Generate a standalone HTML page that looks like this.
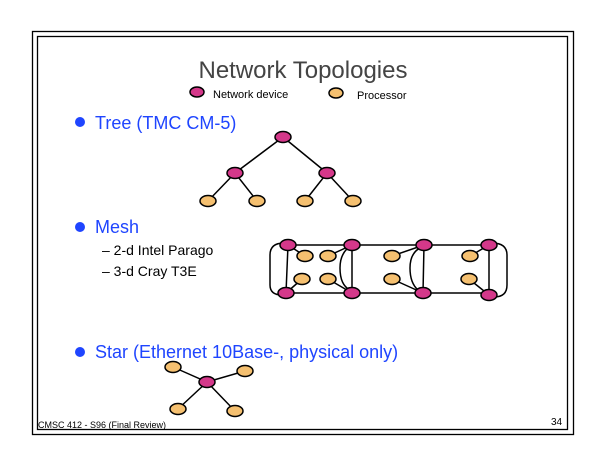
<!DOCTYPE html>
<html><head><style>
body{margin:0;background:#fff;width:605px;height:467px;overflow:hidden}
svg{display:block}
text{font-family:"Liberation Sans",sans-serif}
</style></head><body>
<svg width="605" height="467" viewBox="0 0 605 467">
<rect x="32.5" y="31.5" width="541" height="403" fill="none" stroke="#000" stroke-width="1.3"/>
<rect x="37.5" y="36.5" width="530" height="393" fill="none" stroke="#000" stroke-width="1.3"/>
<text x="303" y="78" font-size="24" fill="#444" text-anchor="middle">Network Topologies</text>
<g stroke="#000" stroke-width="1.5">
<ellipse cx="197" cy="92" rx="7" ry="5" fill="#d4388a"/>
<ellipse cx="336" cy="93" rx="7" ry="5" fill="#f5c070"/>
</g>
<text x="213" y="98" font-size="11">Network device</text>
<text x="357" y="99" font-size="11">Processor</text>
<g fill="#1f45ff" font-size="18">
<circle cx="80" cy="122" r="5"/>
<text x="95" y="129">Tree (TMC CM-5)</text>
<circle cx="80" cy="227" r="5"/>
<text x="95" y="233">Mesh</text>
<circle cx="80" cy="352" r="5"/>
<text x="95" y="358">Star (Ethernet 10Base-, physical only)</text>
</g>
<text x="102" y="255" font-size="14">–  2-d Intel Parago</text>
<text x="102" y="276" font-size="14">–  3-d Cray T3E</text>
<g stroke="#000" stroke-width="1.5" fill="none">
<!-- tree -->
<path d="M283 137L235 173M283 137L327 173M235 173L208 201M235 173L257 201M327 173L305 201M327 173L353 201"/>
<!-- mesh -->
<path d="M288 245H489M286 293H489M288 245L286 293M352 245V293M424 245L423 293M489 245V295"/>
<path d="M288 245L305 256M352 245L328 256M424 245L392 256M489 245L470 256M286 293L302 279M352 293L328 279M423 293L392 279M489 295L469 279"/>
<path d="M284 243Q270 243 270 255V285Q270 295 282 295"/>
<path d="M492 243Q507 243 507 255V285Q507 297 494 297"/>
<path d="M352 245Q340 252 340 268Q340 285 350 290"/>
<path d="M422 247Q410 252 410 268Q410 283 418 290"/>
<!-- star -->
<path d="M207 382L173 367M207 382L245 371M207 382L178 409M207 382L235 411"/>
</g>
<g stroke="#000" stroke-width="1.5">
<g fill="#d4388a">
<ellipse cx="283" cy="137" rx="8" ry="5.5"/>
<ellipse cx="235" cy="173" rx="8" ry="5.5"/>
<ellipse cx="327" cy="173" rx="8" ry="5.5"/>
<ellipse cx="288" cy="245" rx="8" ry="5.5"/>
<ellipse cx="352" cy="245" rx="8" ry="5.5"/>
<ellipse cx="424" cy="245" rx="8" ry="5.5"/>
<ellipse cx="489" cy="245" rx="8" ry="5.5"/>
<ellipse cx="286" cy="293" rx="8" ry="5.5"/>
<ellipse cx="352" cy="293" rx="8" ry="5.5"/>
<ellipse cx="423" cy="293" rx="8" ry="5.5"/>
<ellipse cx="489" cy="295" rx="8" ry="5.5"/>
<ellipse cx="207" cy="382" rx="8" ry="5.5"/>
</g>
<g fill="#f5c070">
<ellipse cx="208" cy="201" rx="8" ry="5.5"/>
<ellipse cx="257" cy="201" rx="8" ry="5.5"/>
<ellipse cx="305" cy="201" rx="8" ry="5.5"/>
<ellipse cx="353" cy="201" rx="8" ry="5.5"/>
<ellipse cx="305" cy="256" rx="8" ry="5.5"/>
<ellipse cx="328" cy="256" rx="8" ry="5.5"/>
<ellipse cx="392" cy="256" rx="8" ry="5.5"/>
<ellipse cx="470" cy="256" rx="8" ry="5.5"/>
<ellipse cx="302" cy="279" rx="8" ry="5.5"/>
<ellipse cx="328" cy="279" rx="8" ry="5.5"/>
<ellipse cx="392" cy="279" rx="8" ry="5.5"/>
<ellipse cx="469" cy="279" rx="8" ry="5.5"/>
<ellipse cx="173" cy="367" rx="8" ry="5.5"/>
<ellipse cx="245" cy="371" rx="8" ry="5.5"/>
<ellipse cx="178" cy="409" rx="8" ry="5.5"/>
<ellipse cx="235" cy="411" rx="8" ry="5.5"/>
</g>
</g>
<text x="38" y="428" font-size="9">CMSC 412 - S96  (Final Review)</text>
<text x="551" y="425" font-size="10">34</text>
</svg>
</body></html>
